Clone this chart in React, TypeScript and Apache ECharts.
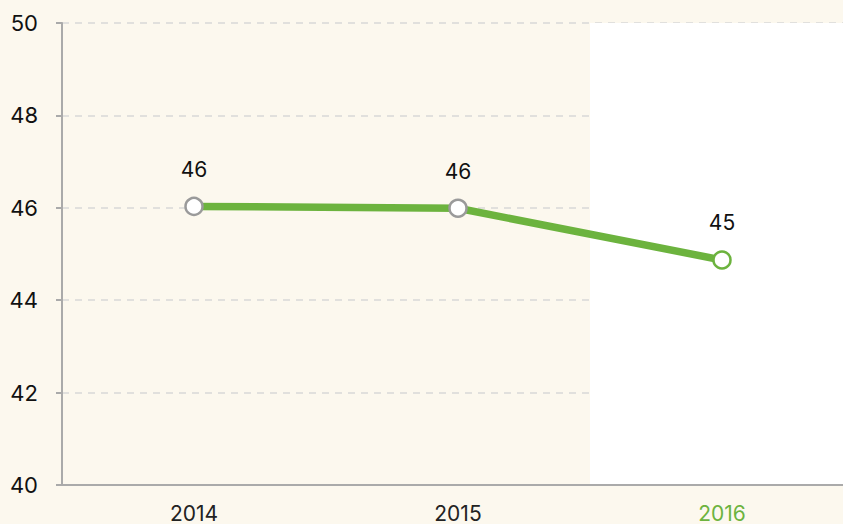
import React, { useEffect, useRef } from "react";
import * as echarts from "echarts";

const years = ["2014", "2015", "2016"];
const values = [46.03, 45.99, 44.87];
const highlightYear = "2016";

const GREEN = "#6cb33e";
const FONT = "Inter, 'DejaVu Sans', sans-serif";

export default function App() {
  const ref = useRef<HTMLDivElement>(null);
  useEffect(() => {
    if (!ref.current) return;
    const chart = echarts.init(ref.current, undefined, { renderer: "svg" });
    chart.setOption({
      animation: false,
      backgroundColor: "#fcf8ee",
      grid: { left: 62, right: 0, top: 23, bottom: 36, containLabel: false },
      xAxis: {
        type: "category",
        data: years,
        boundaryGap: true,
        axisLine: { lineStyle: { color: "#aaaaaa", width: 2 } },
        axisTick: { length: 11, lineStyle: { color: "#aaaaaa", width: 2 } },
        axisLabel: {
          margin: 18,
          fontSize: 21,
          fontFamily: FONT,
          color: (v: string) => (v === highlightYear ? GREEN : "#222222"),
        },
        splitLine: { show: false },
        splitArea: {
          show: true,
          areaStyle: { color: ["rgba(0,0,0,0)", "rgba(0,0,0,0)", "#ffffff"] },
        },
      },
      yAxis: {
        type: "value",
        min: 40,
        max: 50,
        interval: 2,
        axisLine: { show: true, lineStyle: { color: "#aaaaaa", width: 2 } },
        axisTick: { show: true, length: 6, lineStyle: { color: "#aaaaaa", width: 2 } },
        axisLabel: { margin: 24, fontSize: 22, fontFamily: FONT, color: "#111111" },
        splitLine: { show: true, lineStyle: { color: "#d8d8d8", type: [7, 6], width: 1.5 } },
      },
      series: [
        {
          type: "line",
          data: values.map((v, i) => ({
            value: v,
            itemStyle: {
              color: "#ffffff",
              borderColor: years[i] === highlightYear ? GREEN : "#9a9a9a",
              borderWidth: 2.5,
            },
          })),
          symbol: "circle",
          symbolSize: 17,
          lineStyle: { color: GREEN, width: 7.5 },
          label: {
            show: true,
            position: "top",
            distance: 17,
            fontSize: 21,
            fontFamily: FONT,
            color: "#111111",
            formatter: (p: any) => String(Math.round(p.value)),
          },
          z: 3,
        },
      ],
    });
    return () => chart.dispose();
  }, []);
  return (
    <div style={{ position: "fixed", left: 0, top: 0, width: 843, height: 524, overflow: "hidden" }}>
      <div ref={ref} style={{ width: 854, height: 524 }} />
    </div>
  );
}
